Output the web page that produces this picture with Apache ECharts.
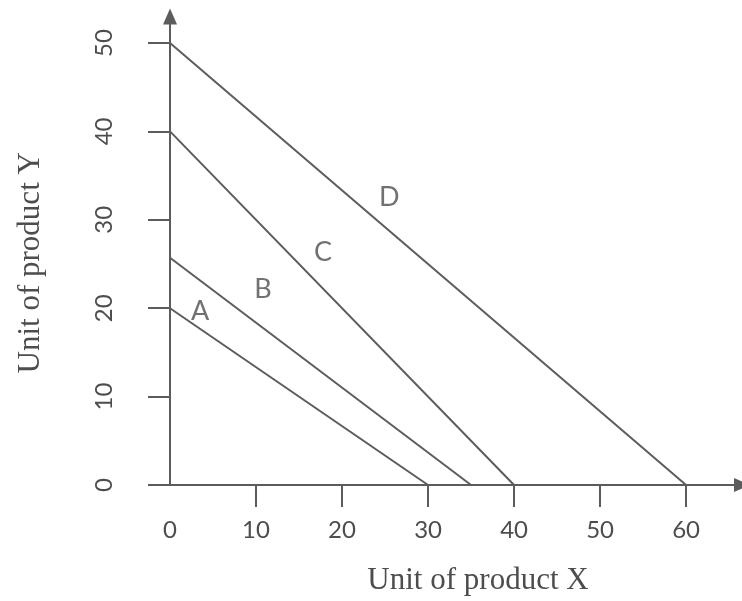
<!DOCTYPE html>
<html>
<head>
<meta charset="utf-8">
<script src="https://cdn.jsdelivr.net/npm/echarts@6/dist/echarts.min.js"></script>
<style>
html,body{margin:0;padding:0;background:#fff;}
#c{width:742px;height:601px;}
</style>
</head>
<body>
<div id="c"></div>
<script>
// Budget lines (x, y) endpoints
const lineNames = ['A', 'B', 'C', 'D'];
const lineA = [[0, 20], [30, 0]];
const lineB = [[0, 25.7], [35, 0]];
const lineC = [[0, 40], [40, 0]];
const lineD = [[0, 50], [60, 0]];
// Label anchor points for each line name
const labelPoints = [[3.5, 19.6], [10.8, 22.1], [17.8, 26.3], [25.5, 32.6]];
// Tick values
const xTicks = [0, 10, 20, 30, 40, 50, 60];
const xTickMarks = [10, 20, 30, 40, 50, 60];
const yTicks = [0, 10, 20, 30, 40, 50];

const lineColor = '#5c5c5c';
const textColor = '#4d4d4d';

const chart = echarts.init(document.getElementById('c'));
const lineSeries = [lineA, lineB, lineC, lineD].map((d, i) => ({
  type: 'line',
  name: lineNames[i],
  data: d,
  showSymbol: false,
  symbol: 'none',
  lineStyle: { color: lineColor, width: 2 },
  silent: true,
  z: 3
}));

chart.setOption({
  animation: false,
  backgroundColor: '#fff',
  grid: { left: 170, right: 0, top: 16.5, bottom: 116, containLabel: false },
  xAxis: {
    type: 'value',
    min: 0,
    max: 66.5,
    name: 'Unit of product X',
    nameLocation: 'middle',
    nameGap: 80,
    nameTextStyle: { fontFamily: 'Liberation Serif', fontSize: 31, color: textColor, padding: [0, 0, 0, 44] },
    axisLine: {
      show: true, onZero: false,
      lineStyle: { color: lineColor, width: 2 },
      symbol: ['none', 'triangle'], symbolSize: [14, 16]
    },
    axisTick: { show: true, inside: false, length: 22, customValues: xTickMarks, lineStyle: { color: lineColor, width: 2 } },
    axisLabel: { customValues: xTicks, margin: 33, fontFamily: 'Lato', fontSize: 24, color: textColor },
    splitLine: { show: false }
  },
  yAxis: {
    type: 'value',
    min: 0,
    max: 53,
    name: 'Unit of product Y',
    nameLocation: 'middle',
    nameRotate: 90,
    nameGap: 124,
    nameTextStyle: { fontFamily: 'Liberation Serif', fontSize: 31, color: textColor, padding: [0, 24, 0, 0] },
    axisLine: {
      show: true, onZero: false,
      lineStyle: { color: lineColor, width: 2 },
      symbol: ['none', 'triangle'], symbolSize: [14, 16]
    },
    axisTick: { show: true, inside: false, length: 22, customValues: yTicks, lineStyle: { color: lineColor, width: 2 } },
    axisLabel: { customValues: yTicks, rotate: 90, margin: 54, fontFamily: 'Lato', fontSize: 24, color: textColor },
    splitLine: { show: false }
  },
  series: lineSeries.concat([{
    type: 'scatter',
    data: labelPoints.map((p, i) => ({ value: p, name: lineNames[i] })),
    symbolSize: 1,
    itemStyle: { color: 'rgba(0,0,0,0)' },
    label: {
      show: true, position: 'inside',
      formatter: p => p.name,
      fontFamily: 'Lato', fontSize: 27, color: textColor
    },
    silent: true,
    z: 4
  }])
});
</script>
</body>
</html>
